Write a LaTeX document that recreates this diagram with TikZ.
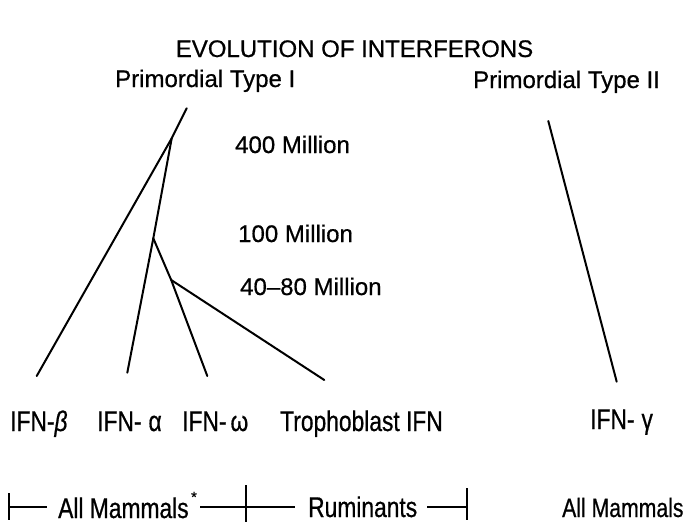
\documentclass[tikz,border=0pt]{standalone}
\usepackage{fontspec}
\setmainfont[FakeBold=0.6]{Liberation Sans}
\newfontfamily\narrowsf[FakeStretch=0.8,FakeBold=0.6]{Liberation Sans}
\begin{document}
\begin{tikzpicture}[x=1pt,y=-1pt,
  lbl/.style={inner sep=0pt, anchor=base west, font=\fontsize{24}{28}\selectfont},
  leaf/.style={inner sep=0pt, anchor=base west, font=\narrowsf\fontsize{28.5}{31}\selectfont},
  branch/.style={line width=2pt, line cap=round},
  rule/.style={line width=1.3pt}]
\useasboundingbox (0,0) rectangle (697,523);

% texts
\node[lbl, anchor=base] (title) at (354.5,57) {EVOLUTION OF INTERFERONS};
\node[lbl] (p1) at (115,87) {Primordial Type I};
\node[lbl] (p2) at (473,88) {Primordial Type II};
\node[lbl] (m400) at (235,153) {400 Million};
\node[lbl] (m100) at (238,242) {100 Million};
\node[lbl] (m4080) at (240,295) {40--80 Million};

\node[leaf] (ifnb) at (10,431) {IFN-{\itshape β}};
\node[leaf] (ifna) at (97,431) {IFN-\hspace{7pt}α};
\node[leaf] (ifnw) at (182,431) {IFN-\hspace{4pt}ω};
\node[leaf] (troph) at (280,431) {Trophoblast IFN};
\node[leaf] (ifng) at (590,429) {IFN-\hspace{7pt}γ};

\node[leaf] (all1) at (58,518) {All Mammals};
\node[inner sep=0pt, font=\fontsize{15}{15}\selectfont] (star) at (194,497) {*};
\node[leaf] (rum) at (308,517) {Ruminants};
\node[leaf, font=\narrowsf\fontsize{26.5}{29}\selectfont] (all2) at (562,517) {All Mammals};

% tree, type I
\coordinate (top) at (186.7,108.3);
\coordinate (j400) at (171.7,138.3);
\coordinate (j100) at (153.3,238.3);
\coordinate (j4080) at (171.2,280);
\coordinate (lb) at (36.7,376);
\coordinate (la) at (127.3,372.7);
\coordinate (lw) at (207.3,376);
\coordinate (lt) at (324.3,380);
\draw[branch] (top) -- (j400) -- (lb);
\draw[branch] (j400) -- (j100) -- (la);
\draw[branch] (j100) -- (j4080) -- (lw);
\draw[branch] (j4080) -- (lt);

% type II
\coordinate (top2) at (548.3,121);
\coordinate (lg) at (616.7,381.7);
\draw[branch] (top2) -- (lg);

% bottom bracket
\coordinate (b1t) at (9,493);   \coordinate (b1b) at (9,520);
\coordinate (b2t) at (246,485); \coordinate (b2b) at (246,522);
\coordinate (b3t) at (467,488); \coordinate (b3b) at (467,520);
\coordinate (b1m) at (9,507);   \coordinate (s1e) at (47,507);
\coordinate (s2s) at (200,507); \coordinate (b2m) at (246,507);
\coordinate (s3e) at (295,507);
\coordinate (s4s) at (427,507); \coordinate (b3m) at (467,507);
\draw[rule] (b1t) -- (b1b);
\draw[rule] (b2t) -- (b2b);
\draw[rule] (b3t) -- (b3b);
\draw[rule] (b1m) -- (s1e);
\draw[rule] (s2s) -- (b2m) -- (s3e);
\draw[rule] (s4s) -- (b3m);
\end{tikzpicture}
\end{document}
